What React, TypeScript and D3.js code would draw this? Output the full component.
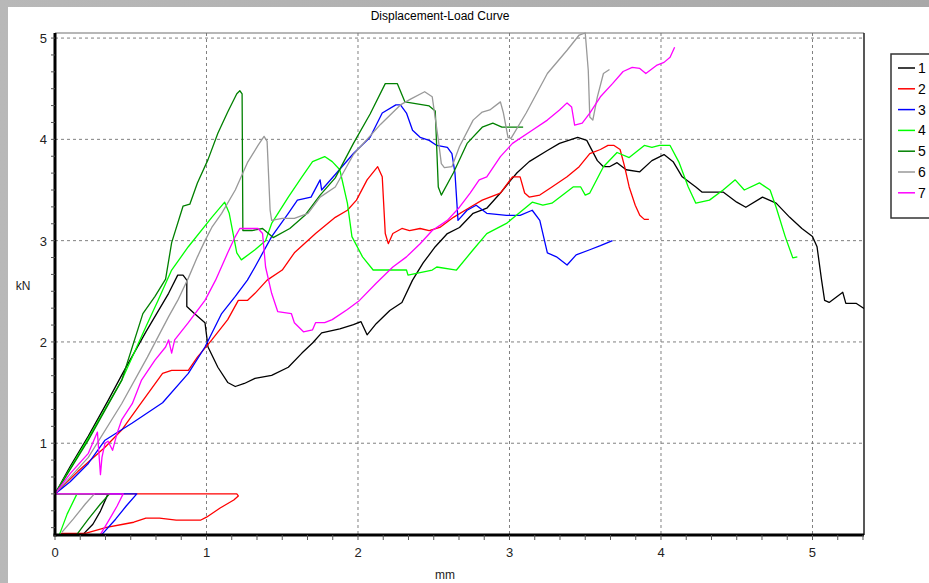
import React from "react";
import * as d3 from "d3";

type P = [number, number];

const seriesNames = ["1", "2", "3", "4", "5", "6", "7"];
const seriesColors = ["#000000", "#ff0000", "#0000ff", "#00ff00", "#008000", "#999999", "#ff00ff"];

const xTicks = [0, 1, 2, 3, 4, 5];
const yTicks = [1, 2, 3, 4, 5];

const series1: P[] = [
  [0.185, 0.1], [0.25, 0.2], [0.3, 0.33], [0.35, 0.5],
  [0, 0.5], [0.1, 0.77], [0.22, 1.07], [0.35, 1.42], [0.45, 1.7], [0.6, 2.1], [0.75, 2.48], [0.81, 2.66], [0.845, 2.66], [0.87, 2.61], [0.87, 2.35], [0.92, 2.28], [0.99, 2.19], [1.01, 1.95], [1.075, 1.75], [1.14, 1.6], [1.19, 1.56], [1.25, 1.59], [1.32, 1.64], [1.43, 1.67], [1.54, 1.75], [1.63, 1.89], [1.7, 1.99], [1.76, 2.09], [1.88, 2.13], [1.97, 2.17], [2.02, 2.2], [2.06, 2.07], [2.12, 2.18], [2.21, 2.31], [2.29, 2.39], [2.36, 2.61], [2.43, 2.78], [2.51, 2.94], [2.59, 3.07], [2.67, 3.13], [2.76, 3.27], [2.85, 3.32], [2.94, 3.47], [3.01, 3.6], [3.05, 3.67], [3.13, 3.78], [3.25, 3.89], [3.33, 3.96], [3.45, 4.02], [3.51, 3.99], [3.58, 3.79], [3.62, 3.73], [3.66, 3.73], [3.71, 3.77], [3.77, 3.7], [3.86, 3.68], [3.94, 3.79], [4.02, 3.85], [4.08, 3.78], [4.14, 3.63], [4.23, 3.53], [4.27, 3.48], [4.41, 3.48], [4.5, 3.38], [4.56, 3.33], [4.67, 3.43], [4.76, 3.37], [4.85, 3.23], [4.93, 3.12], [5.0, 3.04], [5.03, 2.94], [5.06, 2.61], [5.08, 2.41], [5.11, 2.39], [5.2, 2.49], [5.22, 2.38], [5.29, 2.38], [5.34, 2.33],
];

const series2: P[] = [
  [0.04, 0.11], [0.2, 0.11], [0.34, 0.17], [0.45, 0.2], [0.52, 0.22], [0.6, 0.26], [0.69, 0.26], [0.8, 0.24], [0.96, 0.24], [1.0, 0.27], [1.09, 0.36], [1.18, 0.44], [1.21, 0.48], [1.2, 0.5],
  [0, 0.5], [0.15, 0.72], [0.33, 0.96], [0.44, 1.13], [0.55, 1.36], [0.71, 1.69], [0.77, 1.72], [0.88, 1.72], [0.94, 1.85], [1.035, 2.02], [1.14, 2.22], [1.21, 2.41], [1.27, 2.41], [1.32, 2.48], [1.4, 2.61], [1.5, 2.71], [1.58, 2.88], [1.72, 3.07], [1.85, 3.23], [1.93, 3.3], [1.99, 3.4], [2.06, 3.6], [2.13, 3.73], [2.16, 3.63], [2.18, 3.07], [2.2, 2.97], [2.23, 3.07], [2.29, 3.12], [2.34, 3.1], [2.41, 3.12], [2.47, 3.1], [2.54, 3.13], [2.63, 3.23], [2.74, 3.33], [2.82, 3.4], [2.94, 3.47], [3.02, 3.63], [3.07, 3.63], [3.1, 3.47], [3.13, 3.43], [3.2, 3.45], [3.28, 3.53], [3.38, 3.63], [3.46, 3.73], [3.53, 3.86], [3.6, 3.9], [3.65, 3.94], [3.69, 3.94], [3.73, 3.9], [3.76, 3.73], [3.79, 3.53], [3.83, 3.35], [3.86, 3.25], [3.89, 3.21], [3.92, 3.21],
];

const series3: P[] = [
  [0.31, 0.1], [0.4, 0.25], [0.47, 0.38], [0.54, 0.5],
  [0, 0.5], [0.1, 0.62], [0.22, 0.8], [0.33, 1.03], [0.51, 1.2], [0.71, 1.4], [0.88, 1.69], [0.99, 1.95], [1.1, 2.28], [1.19, 2.45], [1.27, 2.61], [1.32, 2.74], [1.43, 3.04], [1.54, 3.27], [1.6, 3.4], [1.69, 3.43], [1.75, 3.6], [1.76, 3.5], [1.86, 3.67], [1.97, 3.86], [2.08, 4.02], [2.16, 4.26], [2.25, 4.34], [2.28, 4.34], [2.32, 4.26], [2.36, 4.09], [2.41, 4.02], [2.47, 3.99], [2.52, 3.94], [2.59, 3.92], [2.62, 3.86], [2.64, 3.67], [2.66, 3.2], [2.72, 3.3], [2.78, 3.35], [2.85, 3.27], [2.98, 3.25], [3.07, 3.25], [3.15, 3.3], [3.2, 3.2], [3.25, 2.88], [3.31, 2.84], [3.38, 2.76], [3.44, 2.86], [3.53, 2.91], [3.6, 2.95], [3.68, 3.0],
];

const series4: P[] = [
  [0.03, 0.1], [0.08, 0.3], [0.145, 0.5],
  [0, 0.5], [0.22, 1.05], [0.44, 1.62], [0.6, 2.15], [0.68, 2.41], [0.77, 2.71], [0.88, 2.94], [1.035, 3.23], [1.12, 3.38], [1.15, 3.27], [1.2, 2.88], [1.23, 2.81], [1.32, 2.91], [1.39, 3.0], [1.43, 3.17], [1.54, 3.43], [1.63, 3.63], [1.7, 3.78], [1.78, 3.83], [1.83, 3.78], [1.88, 3.7], [1.93, 3.37], [1.96, 3.04], [2.03, 2.84], [2.1, 2.71], [2.32, 2.71], [2.33, 2.66], [2.49, 2.71], [2.52, 2.74], [2.65, 2.71], [2.76, 2.91], [2.85, 3.07], [2.98, 3.17], [3.11, 3.33], [3.15, 3.38], [3.22, 3.35], [3.28, 3.37], [3.42, 3.53], [3.47, 3.53], [3.5, 3.45], [3.53, 3.47], [3.62, 3.73], [3.71, 3.87], [3.79, 3.82], [3.89, 3.94], [3.94, 3.92], [3.99, 3.94], [4.06, 3.94], [4.12, 3.77], [4.18, 3.53], [4.23, 3.37], [4.32, 3.4], [4.41, 3.5], [4.49, 3.6], [4.55, 3.5], [4.65, 3.57], [4.72, 3.5], [4.76, 3.33], [4.82, 3.04], [4.87, 2.83], [4.9, 2.84],
];

const series5: P[] = [
  [0.145, 0.1], [0.22, 0.25], [0.3, 0.4], [0.36, 0.5],
  [0, 0.5], [0.22, 1.03], [0.44, 1.62], [0.58, 2.28], [0.66, 2.45], [0.73, 2.62], [0.77, 2.98], [0.845, 3.34], [0.89, 3.36], [0.94, 3.57], [1.01, 3.8], [1.075, 4.06], [1.14, 4.27], [1.2, 4.45], [1.22, 4.48], [1.235, 4.45], [1.24, 3.1], [1.3, 3.1], [1.37, 3.12], [1.44, 3.03], [1.55, 3.12], [1.65, 3.25], [1.75, 3.45], [1.85, 3.62], [1.97, 3.96], [2.08, 4.25], [2.18, 4.55], [2.26, 4.55], [2.31, 4.37], [2.47, 4.33], [2.51, 4.28], [2.53, 3.53], [2.55, 3.45], [2.63, 3.67], [2.72, 3.96], [2.82, 4.12], [2.89, 4.16], [2.95, 4.12], [3.09, 4.12],
];

const series6: P[] = [
  [0.045, 0.12], [0.12, 0.25], [0.2, 0.4], [0.26, 0.5],
  [0, 0.5], [0.22, 0.86], [0.44, 1.39], [0.61, 1.85], [0.75, 2.25], [0.81, 2.41], [0.88, 2.63], [0.94, 2.84], [0.99, 3.0], [1.035, 3.13], [1.1, 3.27], [1.19, 3.5], [1.27, 3.77], [1.34, 3.94], [1.38, 4.03], [1.4, 3.98], [1.42, 3.3], [1.43, 3.2], [1.5, 3.22], [1.58, 3.22], [1.67, 3.27], [1.75, 3.43], [1.85, 3.53], [1.97, 3.85], [2.15, 4.15], [2.28, 4.34], [2.35, 4.4], [2.44, 4.47], [2.49, 4.42], [2.53, 4.0], [2.55, 3.76], [2.57, 3.72], [2.62, 3.73], [2.67, 3.93], [2.76, 4.19], [2.82, 4.27], [2.87, 4.29], [2.94, 4.37], [2.96, 4.26], [2.99, 4.02], [3.01, 4.01], [3.11, 4.26], [3.25, 4.65], [3.38, 4.88], [3.46, 5.03], [3.5, 5.05], [3.52, 4.68], [3.53, 4.22], [3.55, 4.19], [3.58, 4.42], [3.62, 4.65], [3.66, 4.69],
];

const series7: P[] = [
  [0.3, 0.1], [0.36, 0.25], [0.41, 0.38], [0.45, 0.5],
  [0, 0.5], [0.1, 0.7], [0.22, 0.9], [0.28, 1.11], [0.3, 0.69], [0.31, 0.86], [0.33, 1.0], [0.35, 1.02], [0.38, 0.93], [0.41, 1.1], [0.44, 1.23], [0.51, 1.39], [0.57, 1.62], [0.66, 1.82], [0.73, 1.95], [0.75, 2.02], [0.77, 1.89], [0.79, 2.02], [0.88, 2.19], [0.99, 2.41], [1.06, 2.61], [1.14, 2.88], [1.19, 3.04], [1.22, 3.12], [1.34, 3.12], [1.37, 3.07], [1.39, 2.74], [1.43, 2.48], [1.47, 2.3], [1.56, 2.28], [1.58, 2.19], [1.64, 2.1], [1.7, 2.12], [1.72, 2.19], [1.78, 2.19], [1.83, 2.22], [1.93, 2.32], [2.01, 2.41], [2.12, 2.58], [2.23, 2.74], [2.32, 2.84], [2.41, 2.97], [2.49, 3.1], [2.59, 3.2], [2.67, 3.33], [2.74, 3.47], [2.8, 3.6], [2.85, 3.63], [2.94, 3.83], [3.02, 3.96], [3.15, 4.09], [3.25, 4.19], [3.33, 4.29], [3.38, 4.36], [3.41, 4.32], [3.43, 4.14], [3.48, 4.16], [3.53, 4.26], [3.6, 4.42], [3.68, 4.55], [3.75, 4.67], [3.81, 4.71], [3.86, 4.7], [3.9, 4.65], [3.97, 4.73], [4.02, 4.76], [4.06, 4.81], [4.09, 4.91],
];

const allSeries = [series1, series2, series3, series4, series5, series6, series7];

const W = 929;
const H = 583;
const L = 55, R = 864, T = 33, B = 535;

export default function App() {
  const x = d3.scaleLinear().domain([0, 5.34]).range([L, R]);
  const y = d3.scaleLinear().domain([0.094, 5.05]).range([B, T]);
  const line = d3.line<P>().x((d) => x(d[0])).y((d) => y(d[1]));
  const minorX = d3.range(0, 33).map((i) => i / 6).filter((v) => v <= 5.34);
  const minorY = d3.range(1, 31).map((i) => i / 6).filter((v) => v >= 0.094 && v <= 5.05);
  const font = "Liberation Sans, Arial, sans-serif";
  return (
    <div style={{ position: "absolute", left: 0, top: 0 }}>
      <svg width={W} height={H} style={{ display: "block" }}>
        <defs>
          <linearGradient id="topg" x1="0" x2="1" y1="0" y2="0">
            <stop offset="0" stopColor="#b8b8b8" />
            <stop offset="1" stopColor="#a8a8a8" />
          </linearGradient>
          <clipPath id="plotclip">
            <rect x={L} y={T - 1} width={R - L} height={B - T + 1} />
          </clipPath>
        </defs>
        <rect x={0} y={0} width={W} height={H} fill="url(#topg)" />
        <rect x={8} y={7} width={W - 8} height={H - 7} fill="#ffffff" />
        <text x={440} y={20} textAnchor="middle" fontFamily={font} fontSize={12} fill="#000">
          Displacement-Load Curve
        </text>
        {/* grid */}
        {xTicks.filter((t) => t > 0).map((t) => (
          <line key={"gx" + t} x1={x(t)} x2={x(t)} y1={T} y2={B} stroke="#808080" strokeWidth={1} strokeDasharray="3,3" />
        ))}
        {yTicks.map((t) => (
          <line key={"gy" + t} x1={L} x2={R} y1={y(t)} y2={y(t)} stroke="#808080" strokeWidth={1} strokeDasharray="3,3" />
        ))}
        {/* frame */}
        <line x1={L} x2={R} y1={T} y2={T} stroke="#707070" strokeWidth={1.2} />
        <line x1={R} x2={R} y1={T} y2={B} stroke="#202020" strokeWidth={1.5} />
        {/* data */}
        <g clipPath="url(#plotclip)">
          {allSeries.map((s, i) => (
            <path key={"s" + i} d={line(s) || ""} fill="none" stroke={seriesColors[i]} strokeWidth={1.3} strokeLinejoin="round" />
          ))}
        </g>
        {/* axes */}
        <line x1={L} x2={L} y1={T} y2={B + 1.5} stroke="#000" strokeWidth={3} />
        <line x1={L - 1.5} x2={R} y1={B} y2={B} stroke="#000" strokeWidth={3} />
        {minorX.map((t, i) => (
          <line key={"mx" + i} x1={x(t)} x2={x(t)} y1={B} y2={B + 5} stroke="#555" strokeWidth={1} />
        ))}
        {minorY.map((t, i) => (
          <line key={"my" + i} x1={L - 4} x2={L} y1={y(t)} y2={y(t)} stroke="#555" strokeWidth={1} />
        ))}
        {xTicks.map((t) => (
          <text key={"xl" + t} x={x(t)} y={B + 22} textAnchor="middle" fontFamily={font} fontSize={13} fill="#222">
            {t}
          </text>
        ))}
        {yTicks.map((t) => (
          <text key={"yl" + t} x={L - 8} y={y(t) + 5} textAnchor="end" fontFamily={font} fontSize={13} fill="#222">
            {t}
          </text>
        ))}
        <text x={23} y={290} textAnchor="middle" fontFamily={font} fontSize={12} fill="#222">kN</text>
        <text x={445} y={579} textAnchor="middle" fontFamily={font} fontSize={12} fill="#222">mm</text>
        {/* legend */}
        <rect x={891} y={54} width={60} height={164} fill="#fff" stroke="#333" strokeWidth={1.5} />
        {seriesNames.map((n, i) => (
          <g key={"lg" + i}>
            <line x1={898} x2={915} y1={68 + i * 20.8} y2={68 + i * 20.8} stroke={seriesColors[i]} strokeWidth={1.5} />
            <text x={918} y={68 + i * 20.8 + 5} fontFamily={font} fontSize={14} fill="#000">{n}</text>
          </g>
        ))}
      </svg>
    </div>
  );
}
